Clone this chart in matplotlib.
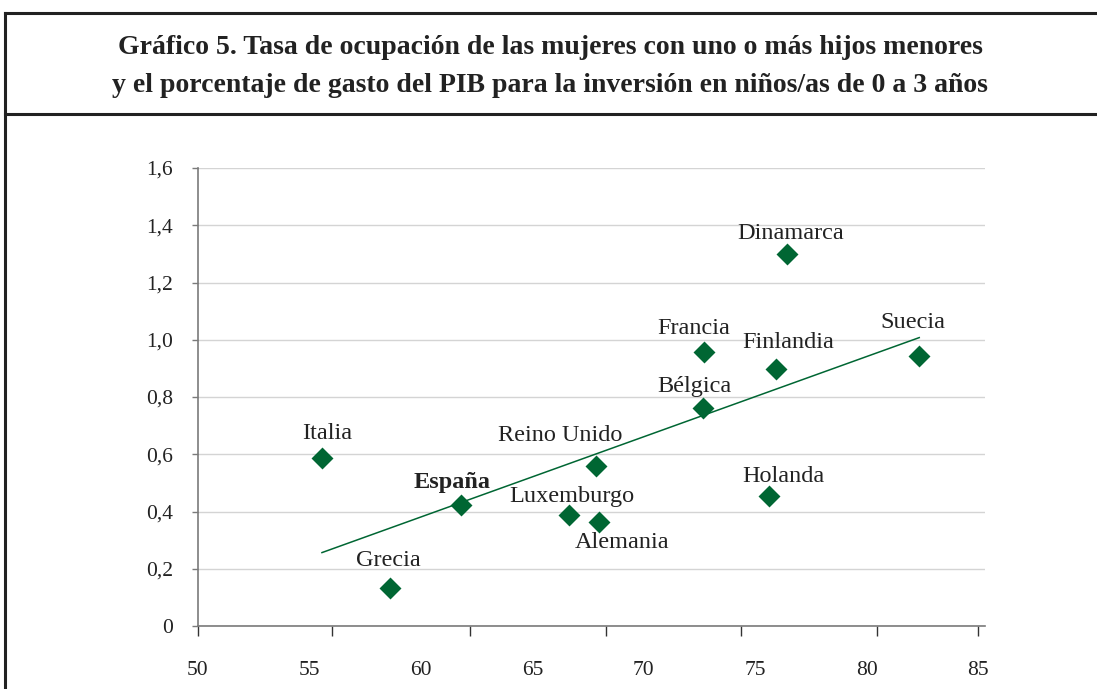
import numpy as np
import matplotlib
matplotlib.use("Agg")
import matplotlib.pyplot as plt
from matplotlib.lines import Line2D

# datos
paises = ["Italia", "España", "Grecia", "Luxemburgo", "Alemania", "Reino Unido",
          "Bélgica", "Francia", "Finlandia", "Dinamarca", "Suecia", "Holanda"]
ocupacion = [55.56, 61.80, 58.62, 66.65, 67.99, 67.86, 72.66, 72.70, 75.94, 76.43, 82.35, 75.62]
gasto_pib = [0.588, 0.423, 0.134, 0.388, 0.365, 0.560, 0.763, 0.957, 0.899, 1.298, 0.943, 0.454]
# desplazamiento de cada etiqueta respecto al punto (pixeles)
offsets = [(5, 24), (-9, 22), (-2, 27), (3, 18), (23, -21), (-36, 30),
           (-9, 21), (-10, 24), (12, 26), (3, 21), (-6, 34), (14, 20)]

x_labels = [50, 55, 60, 65, 70, 75, 80, 85]
x_marks = [50, 56.01, 62.21, 68.31, 74.37, 80.47, 85]   # marcas del eje (no coinciden con etiquetas)
y_ticks = [0, 0.2, 0.4, 0.6, 0.8, 1.0, 1.2, 1.4, 1.6]

verde = "#006633"
gris = "#7a7a7a"
serif = ["Liberation Serif", "DejaVu Serif"]

fig = plt.figure(figsize=(10.97, 6.89), dpi=100)
ax = fig.add_axes([198/1097, 63/689, 787/1097, 458/689])

ax.scatter(ocupacion, gasto_pib, marker="D", s=125, color=verde, zorder=3, linewidths=0)

# linea de tendencia (minimos cuadrados)
b, a = np.polyfit(ocupacion, gasto_pib, 1)
xt = np.array([min(ocupacion), max(ocupacion)])
ax.plot(xt, a + b*xt, color=verde, lw=1.1, zorder=2)

for p, xv, yv, (dx, dy) in zip(paises, ocupacion, gasto_pib, offsets):
    ax.annotate(p, (xv, yv), xytext=(dx, dy), textcoords="offset pixels",
                ha="center", va="center", fontsize=17.5, family=serif, color="#222222",
                fontweight="bold" if p == "España" else "normal")

ax.set_xlim(50, 85.3)
ax.set_ylim(0, 1.6)
ax.xaxis.remove_overlapping_locs = False
ax.set_yticks(y_ticks)
ax.set_yticklabels([f"{v:.1f}".replace(".", ",") if v else "0" for v in y_ticks])
ax.set_xticks(x_marks)
ax.set_xticklabels([])
ax.set_xticks(x_labels, minor=True)
ax.set_xticklabels([str(v) for v in x_labels], minor=True)
ax.tick_params(axis="x", which="major", direction="out", length=7, width=1, color="#333333")
ax.tick_params(axis="x", which="minor", length=0, pad=25, labelsize=15.5)
ax.tick_params(axis="y", direction="out", length=4, width=1, color=gris, pad=14, labelsize=15.5)
for lab in ax.get_xticklabels(minor=True) + ax.get_yticklabels():
    lab.set_family(serif)
    lab.set_color("#222222")

ax.grid(axis="y", color="#d4d4d4", lw=1)
ax.set_axisbelow(True)
for s in ["top", "right"]:
    ax.spines[s].set_visible(False)
for s in ["left", "bottom"]:
    ax.spines[s].set_color(gris)
    ax.spines[s].set_linewidth(1.2)

# recuadro del titulo
fig.add_artist(Line2D([5/1097, 1], [1-13/689, 1-13/689], color="#222222", lw=2.2))
fig.add_artist(Line2D([5/1097, 1], [1-114/689, 1-114/689], color="#222222", lw=2.2))
fig.add_artist(Line2D([5/1097, 5/1097], [0, 1-13/689], color="#222222", lw=2.2))

fig.text(550/1097, 1-47/689, "Gráfico 5. Tasa de ocupación de las mujeres con uno o más hijos menores",
         ha="center", va="center", fontsize=20, fontweight="bold", family=serif, color="#222222")
fig.text(550/1097, 1-85/689, "y el porcentaje de gasto del PIB para la inversión en niños/as de 0 a 3 años",
         ha="center", va="center", fontsize=20, fontweight="bold", family=serif, color="#222222")

fig.savefig("out.png", dpi=100)
